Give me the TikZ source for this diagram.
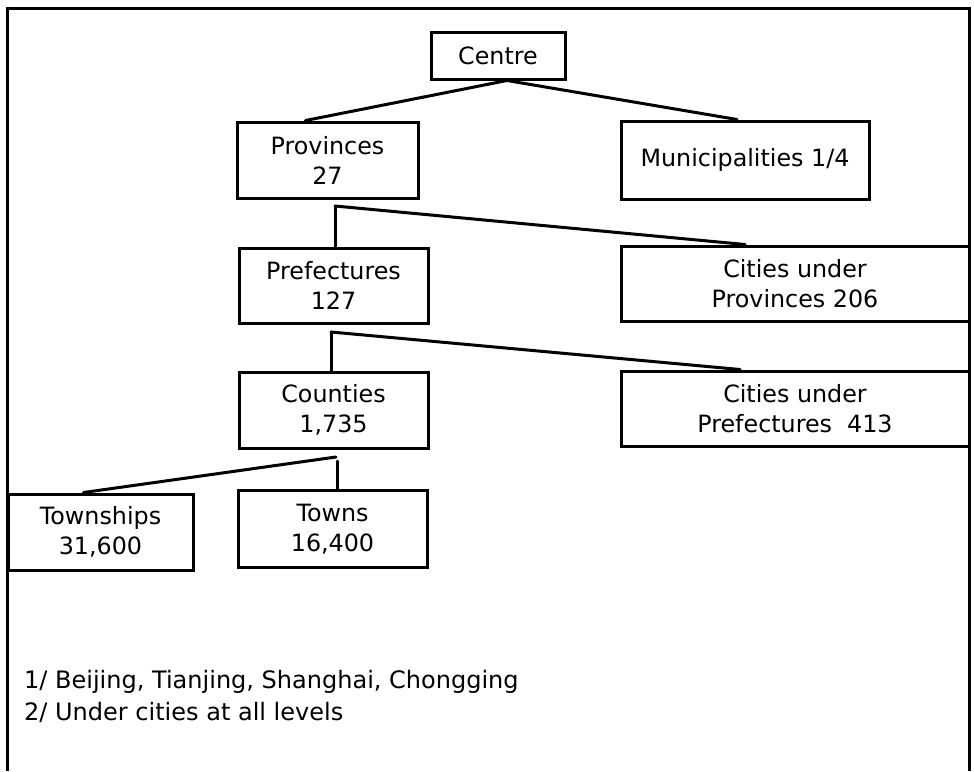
\documentclass[tikz,border=0pt]{standalone}
\usepackage{fontspec}
\setmainfont{DejaVu Sans}
\usetikzlibrary{calc}
\tikzset{
  box/.style={draw, line width=3pt, rectangle, align=center, inner sep=0pt,
    font=\fontsize{23.8}{30}\selectfont},
  link/.style={line width=3pt, line cap=round, line join=round},
}
\begin{document}
\begin{tikzpicture}[x=1pt,y=-1pt]
\useasboundingbox (0,0) rectangle (974,771);
\fill[white] (0,0) rectangle (974,771);
% outer frame
\draw[line width=3pt] (7,771) -- (7,8) -- (969,8) -- (969,771);
% boxes
\node[box, minimum width=134pt, minimum height=47pt] (c) at (498,55.5) {Centre};
\node[box, minimum width=181pt, minimum height=76pt] (p) at (327.5,160) {Provinces\\27};
\node[box, minimum width=248pt, minimum height=78pt] (m) at (745,160) {Municipalities 1/4};
\node[box, minimum width=189pt, minimum height=75pt] (pf) at (333.5,285.5) {Prefectures\\127};
\node[box, minimum width=348pt, minimum height=75pt] (cp) at (795,283.5) {Cities under\\Provinces 206};
\node[box, minimum width=189pt, minimum height=76pt] (co) at (333.5,410) {Counties\\1,735};
\node[box, minimum width=348pt, minimum height=75pt] (cpf) at (795,408.5) {Cities under\\Prefectures\ \ 413};
\node[box, minimum width=185pt, minimum height=76pt] (tw) at (100.5,532) {Townships\\31,600};
\node[box, minimum width=189pt, minimum height=77pt] (to) at (332.5,529) {Towns\\16,400};
% connectors
\coordinate (a0) at ($(c.south)+(9,0)$);
\draw[link] (a0) -- ($(p.north)+(-22,0)$);
\draw[link] (a0) -- ($(m.north)+(-8,0)$);
\coordinate (b1) at (335,206);
\draw[link] (b1) -- (b1 |- pf.north);
\draw[link] (b1) -- ($(cp.north)+(-50,0)$);
\coordinate (b2) at (331,332);
\draw[link] (b2) -- (b2 |- co.north);
\draw[link] (b2) -- ($(cpf.north)+(-55,0)$);
\coordinate (b3) at (336,457);
\draw[link] (b3) -- ($(tw.north)+(-17,0)$);
\coordinate (b4) at (337,461);
\draw[link] (b4) -- (b4 |- to.north);
% footnotes
\node[anchor=west, align=left, inner sep=0pt, font=\fontsize{24}{32}\selectfont] (fn) at (24,696)
  {1/ Beijing, Tianjing, Shanghai, Chongging\\2/ Under cities at all levels};
\end{tikzpicture}
\end{document}
